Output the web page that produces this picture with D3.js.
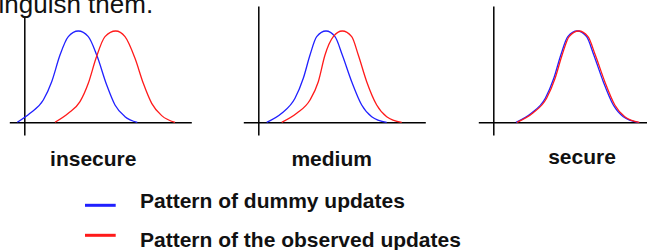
<!DOCTYPE html>
<html>
<head>
<meta charset="utf-8">
<script src="https://cdn.jsdelivr.net/npm/d3@7"></script>
<style>
  body { margin: 0; background: #fff; }
  svg { display: block; font-family: "Liberation Sans", Arial, sans-serif; }
</style>
</head>
<body>
<script>
// panels (categories) and their curves
// x: arbitrary units from the y-axis, y: relative density (peak = 1)
const panels = ["insecure", "medium", "secure"];

const dummyInsecure = [[-0.70,0],[0.57,0.099],[1.90,0.244],[2.74,0.445],[3.57,0.737],[4.40,0.938],[5.40,1],[6.40,0.938],[7.24,0.737],[8.24,0.409],[9.07,0.190],[10.07,0.062],[11.30,0]];
const observedInsecure = [[3.07,0],[4.40,0.099],[5.57,0.226],[6.40,0.427],[7.17,0.701],[8.07,0.938],[9.14,1],[10.07,0.938],[11.07,0.701],[11.90,0.427],[12.74,0.208],[13.74,0.073],[15.07,0]];

const dummyMedium = [[0.84,0],[2.34,0.099],[3.67,0.263],[4.50,0.482],[5.17,0.737],[5.84,0.938],[6.77,1],[7.67,0.938],[8.40,0.737],[9.34,0.445],[10.34,0.190],[11.34,0.062],[12.84,0]];
const observedMedium = [[2.34,0],[3.84,0.099],[5.17,0.244],[6.00,0.445],[6.67,0.737],[7.50,0.938],[8.40,1],[9.34,0.938],[10.00,0.737],[10.84,0.445],[11.84,0.190],[12.84,0.062],[14.34,0]];

const dummySecure = [[2.27,0],[3.80,0.099],[5.20,0.263],[6.05,0.482],[6.75,0.737],[7.45,0.938],[8.40,1],[9.33,0.938],[10.05,0.737],[11.00,0.445],[12.00,0.190],[13.00,0.062],[14.50,0]];
const observedSecure = [[2.37,0],[3.93,0.099],[5.33,0.263],[6.18,0.482],[6.88,0.737],[7.58,0.938],[8.54,1],[9.47,0.938],[10.20,0.737],[11.15,0.445],[12.15,0.190],[13.15,0.062],[14.60,0]];

const dummySeries = [dummyInsecure, dummyMedium, dummySecure];
const observedSeries = [observedInsecure, observedMedium, observedSecure];

const legendLabels = ["Pattern of dummy updates", "Pattern of the observed updates"];
const caption = "inguish them.";

const width = 647, height = 250;
const colors = ["#2020ff", "#ff1a1a"];

const svg = d3.select("body").append("svg")
    .attr("width", width)
    .attr("height", height);

// layout of each small panel
const panelOrigin = [24.3, 258.3, 493.3];
const labelCenter = [93.3, 331.7, 582];
const labelBaseline = [166, 166, 163.5];

const y = d3.scaleLinear().domain([-0.139, 1.274]).range([135, 6]);

const line = d3.line().curve(d3.curveMonotoneX);

panels.forEach((name, i) => {
    const ox = panelOrigin[i];
    const x = d3.scaleLinear().domain([-1.5, 16.7]).range([ox - 15, ox + 167]);
    const g = svg.append("g");

    const xAxis = g.append("g")
        .attr("transform", `translate(0,${y(0)})`)
        .call(d3.axisBottom(x).tickValues([]).tickSizeOuter(0));
    const yAxis = g.append("g")
        .attr("transform", `translate(${x(0)},0)`)
        .call(d3.axisLeft(y).tickValues([]).tickSizeOuter(0));
    [xAxis, yAxis].forEach(a => a.select(".domain")
        .attr("stroke", "#000")
        .attr("stroke-width", 1.5));

    line.x(d => x(d[0])).y(d => y(d[1]));

    [dummySeries[i], observedSeries[i]].forEach((s, k) => {
        g.append("path")
            .datum(s)
            .attr("fill", "none")
            .attr("stroke", colors[k])
            .attr("stroke-width", 1.3)
            .attr("d", line);
    });

    g.append("text")
        .attr("x", labelCenter[i])
        .attr("y", labelBaseline[i])
        .attr("text-anchor", "middle")
        .attr("font-size", 21)
        .attr("font-weight", "bold")
        .attr("fill", "#111")
        .text(name);
});

// caption cut off from the page above
svg.append("rect")
    .attr("x", 0).attr("y", 0)
    .attr("width", 160).attr("height", 16)
    .attr("fill", "#fff");
svg.append("text")
    .attr("x", -1.5)
    .attr("y", 13.3)
    .attr("font-size", 26)
    .attr("fill", "#111")
    .text(caption);

// legend
const legend = svg.append("g");
const legendLineY = [205.3, 235.3];
const legendTextY = [208.3, 247];
legendLabels.forEach((label, k) => {
    legend.append("line")
        .attr("x1", 85).attr("x2", 115.7)
        .attr("y1", legendLineY[k]).attr("y2", legendLineY[k])
        .attr("stroke", colors[k])
        .attr("stroke-width", 3);
    legend.append("text")
        .attr("x", 140)
        .attr("y", legendTextY[k])
        .attr("font-size", 21)
        .attr("font-weight", "bold")
        .attr("fill", "#111")
        .text(label);
});
</script>
</body>
</html>
